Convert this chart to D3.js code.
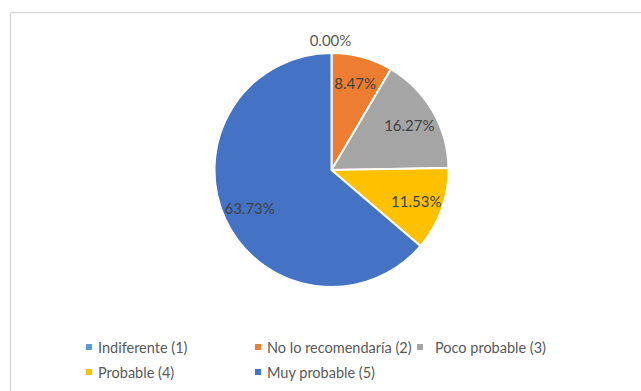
<!DOCTYPE html>
<html><head><meta charset="utf-8">
<script src="https://cdn.jsdelivr.net/npm/d3@7"></script>
<style>html,body{margin:0;padding:0;background:#fff;}svg{display:block;}</style>
</head><body>
<svg id="c" width="641" height="391"></svg>
<script>
const categories = ["Indiferente (1)", "No lo recomendaría (2)", "Poco probable (3)", "Probable (4)", "Muy probable (5)"];
const values = [0.00, 8.47, 16.27, 11.53, 63.73];
const labels = ["0.00%", "8.47%", "16.27%", "11.53%", "63.73%"];
const colors = ["#5B9BD5", "#ED7D31", "#A5A5A5", "#FFC000", "#4472C4"];

const svg = d3.select("#c");
const font = "Lato, 'Open Sans', sans-serif";
// frame
svg.append("line").attr("x1",10.5).attr("x2",641).attr("y1",12.5).attr("y2",12.5).attr("stroke","#d9d9d9").attr("stroke-width",1.5);
svg.append("line").attr("x1",10.5).attr("x2",10.5).attr("y1",12.5).attr("y2",391).attr("stroke","#d9d9d9").attr("stroke-width",1.5);

const cx = 331.5, cy = 170, r = 117;
const pie = d3.pie().sort(null).value(d => d)(values);
const arc = d3.arc().innerRadius(0).outerRadius(r);
const g = svg.append("g").attr("transform", `translate(${cx},${cy})`);
g.selectAll("path").data(pie).join("path")
  .attr("d", arc).attr("fill", (d,i) => colors[i])
  .attr("stroke", "#fff").attr("stroke-width", 2).attr("stroke-linejoin","round");

const labelArc = d3.arc().innerRadius(r*0.77).outerRadius(r*0.77);
g.selectAll("text.lbl").data(pie).join("text").attr("class","lbl")
  .attr("transform", (d,i) => {
    if (values[i] === 0) return `translate(${-1},${-r-13})`;
    const c = labelArc.centroid(d);
    return `translate(${c[0]},${c[1]})`;
  })
  .attr("text-anchor","middle").attr("dominant-baseline","central")
  .attr("font-family", font).attr("font-size", 15)
  .attr("fill", (d,i) => values[i] === 0 ? "#595959" : "#404040")
  .text((d,i) => labels[i]);

// legend
const legPos = [[86,98,347],[255,267,347],[417,435,347],[86,98,372],[255,267,372]];
const lg = svg.append("g");
categories.forEach((c,i) => {
  const [mx,tx,y] = legPos[i];
  lg.append("rect").attr("x",mx).attr("y",y-3).attr("width",6).attr("height",6).attr("fill",colors[i]);
  lg.append("text").attr("x",tx).attr("y",y).attr("dominant-baseline","central")
    .attr("font-family",font).attr("font-size",14.5).attr("fill","#595959").text(c);
});
</script>
</body></html>
